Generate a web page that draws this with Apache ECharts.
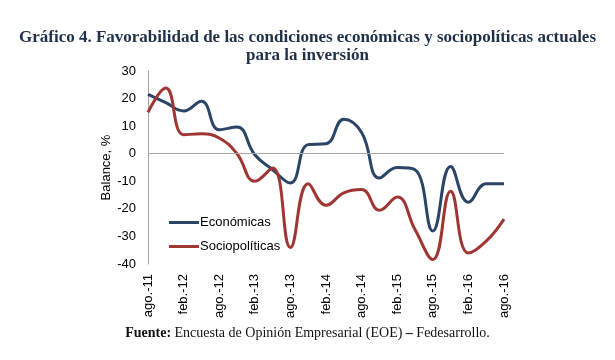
<!DOCTYPE html>
<html><head><meta charset="utf-8">
<script src="https://cdn.jsdelivr.net/npm/echarts@6/dist/echarts.min.js"></script>
<style>html,body{margin:0;padding:0;background:#fff}#c{width:615px;height:360px}</style>
</head><body><div id="c"></div>
<script>
const categories = ["ago.-11","nov.-11","feb.-12","may.-12","ago.-12","nov.-12","feb.-13","may.-13","ago.-13","nov.-13","feb.-14","may.-14","ago.-14","nov.-14","feb.-15","may.-15","ago.-15","nov.-15","feb.-16","may.-16","ago.-16"];
const tickLabels = ["ago.-11","feb.-12","ago.-12","feb.-13","ago.-13","feb.-14","ago.-14","feb.-15","ago.-15","feb.-16","ago.-16"];
const economicas = [21.5,18.5,15.5,19,8.7,9.7,-0.4,-5.8,-10.6,3.3,3.6,12.5,7.7,-8.8,-5,-5.8,-28,-4.6,-17.6,-10.9,-10.9];
const sociopoliticas = [15,23.8,6.9,7.2,5.7,0,-10,-5.2,-34,-10.9,-18.7,-14.2,-13,-20.5,-15.7,-27.5,-38.4,-13.6,-36,-31.7,-23.7];
const yTicks = {min:-40, max:30, interval:10};

const chart = echarts.init(document.getElementById('c'));
chart.setOption({
  animation:false,
  backgroundColor:'#fff',
  title:{
    text:'Gráfico 4. Favorabilidad de las condiciones económicas y sociopolíticas actuales\npara la inversión',
    left:'center', top:24,
    textStyle:{fontFamily:'Liberation Serif', fontWeight:'bold', fontSize:17, color:'#1f3048', lineHeight:18}
  },
  graphic:[{
    type:'text', left:'center', top:326,
    style:{
      text:'{b|Fuente:} Encuesta de Opinión Empresarial (EOE) {b|–} Fedesarrollo.',
      fontFamily:'Liberation Serif', fontSize:14, fill:'#111',
      rich:{b:{fontFamily:'Liberation Serif', fontWeight:'bold', fontSize:14, fill:'#111'}}
    }
  }],
  legend:{
    orient:'vertical', left:164, top:211, itemGap:11,
    itemWidth:30, itemHeight:3, icon:'rect',
    textStyle:{fontFamily:'Liberation Sans', fontSize:13, color:'#000', padding:[0,0,0,-4]},
    data:['Económicas','Sociopolíticas']
  },
  grid:{left:148, right:111, top:71, bottom:96},
  xAxis:{
    type:'category', data:categories, boundaryGap:false,
    axisLine:{show:false}, axisTick:{show:false},
    axisLabel:{rotate:90, margin:10, fontFamily:'Liberation Sans', fontSize:13, color:'#000',
      interval:(i,v)=>tickLabels.indexOf(v)>=0},
    splitLine:{show:false}
  },
  yAxis:{
    type:'value', min:yTicks.min, max:yTicks.max, interval:yTicks.interval,
    name:'Balance, %', nameLocation:'middle', nameGap:35, nameMoveOverlap:false,
    nameTextStyle:{fontFamily:'Liberation Sans', fontSize:13, color:'#000'},
    axisLine:{show:true, lineStyle:{color:'#a6a6a6', width:1}}, axisTick:{show:false},
    axisLabel:{margin:12, fontFamily:'Liberation Sans', fontSize:13, color:'#000'},
    splitLine:{show:false}
  },
  series:[
    {name:'Económicas', type:'line', data:economicas, smooth:0.45, showSymbol:false,
     lineStyle:{color:'#2b4566', width:3}, itemStyle:{color:'#2b4566'},
     markLine:{silent:true, symbol:'none', label:{show:false}, lineStyle:{color:'#a6a6a6', width:1, type:'solid'}, data:[{yAxis:0}]}},
    {name:'Sociopolíticas', type:'line', data:sociopoliticas, smooth:0.45, showSymbol:false,
     lineStyle:{color:'#a03634', width:3}, itemStyle:{color:'#a03634'}}
  ]
});
</script></body></html>
